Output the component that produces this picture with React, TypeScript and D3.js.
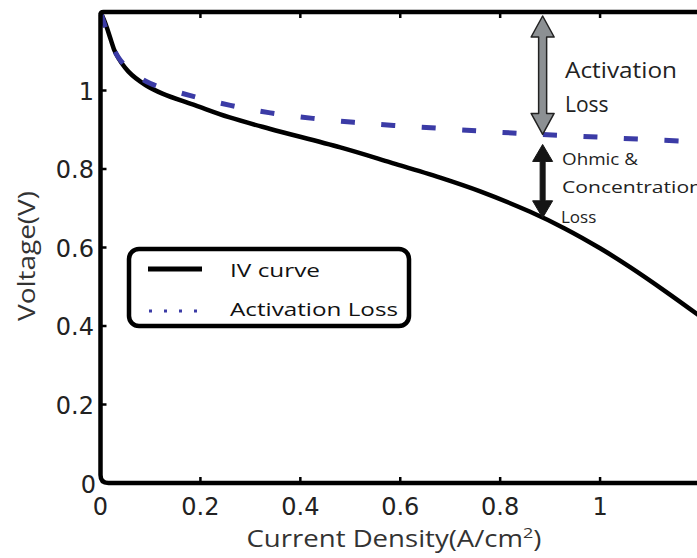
import React, { useLayoutEffect, useRef } from "react";
import * as d3 from "d3";

const W = 697;
const H = 558;

const xTicks = [0, 0.2, 0.4, 0.6, 0.8, 1];
const yTicks = [0.2, 0.4, 0.6, 0.8, 1];

const ivX = [0, 0.01, 0.02, 0.03, 0.056, 0.09, 0.124, 0.19, 0.257, 0.34, 0.48, 0.58, 0.68, 0.76, 0.86, 0.93, 1.0, 1.06, 1.13, 1.2];
const ivV = [1.2, 1.17, 1.132, 1.096, 1.048, 1.014, 0.992, 0.962, 0.932, 0.902, 0.855, 0.817, 0.778, 0.743, 0.691, 0.648, 0.598, 0.55, 0.489, 0.425];

const actX = [0, 0.01, 0.02, 0.036, 0.06, 0.1, 0.18, 0.26, 0.34, 0.425, 0.507, 0.587, 0.673, 0.755, 0.835, 0.918, 1.0, 1.08, 1.166, 1.2];
const actV = [1.2, 1.16, 1.125, 1.084, 1.05, 1.018, 0.987, 0.962, 0.943, 0.929, 0.919, 0.911, 0.904, 0.897, 0.891, 0.886, 0.881, 0.876, 0.871, 0.869];

const seriesNames = ["IV curve", "Activation Loss"];

const FONT = "'Open Sans', 'Noto Sans', sans-serif";
const TICKFONT = "'DejaVu Sans', sans-serif";
const BLUE = "#3b3ba6";
const DASH = 14;
const PERIOD = 40.5;

function doubleArrow(x: number, y1: number, y2: number, headW: number, headL: number, shaftW: number) {
  const p = d3.path();
  p.moveTo(x, y1);
  p.lineTo(x + headW, y1 + headL);
  p.lineTo(x + shaftW, y1 + headL);
  p.lineTo(x + shaftW, y2 - headL);
  p.lineTo(x + headW, y2 - headL);
  p.lineTo(x, y2);
  p.lineTo(x - headW, y2 - headL);
  p.lineTo(x - shaftW, y2 - headL);
  p.lineTo(x - shaftW, y1 + headL);
  p.lineTo(x - headW, y1 + headL);
  p.closePath();
  return p.toString();
}

export default function App() {
  const actRef = useRef<SVGPathElement>(null);
  const x = d3.scaleLinear().domain([0, 1.2]).range([100.5, 700]);
  const y = d3.scaleLinear().domain([0, 1.2]).range([483, 12]);

  const line = d3
    .line<[number, number]>()
    .x((d) => x(d[0]))
    .y((d) => y(d[1]))
    .curve(d3.curveCatmullRom.alpha(0.5));

  const ivData: [number, number][] = ivX.map((v, i) => [v, ivV[i]]);
  const actData: [number, number][] = actX.map((v, i) => [v, actV[i]]);

  useLayoutEffect(() => {
    const el = actRef.current;
    if (!el) return;
    const total = el.getTotalLength();
    const target = x(0.1) - DASH / 2;
    let lo = 0, hi = total;
    for (let i = 0; i < 40; i++) {
      const mid = (lo + hi) / 2;
      if (el.getPointAtLength(mid).x < target) lo = mid; else hi = mid;
    }
    const off = PERIOD - (lo % PERIOD);
    el.setAttribute("stroke-dashoffset", String(off));
  }, []);

  const x0 = x(0), x1 = x(1.2), y0 = y(0), y1 = y(1.2);
  const r = 8;
  const axisPath = `M${x1 + 10},${y1} L${x0 + 3},${y1} Q${x0},${y1} ${x0},${y1 + 3} L${x0},${y0 - r} Q${x0},${y0} ${x0 + r},${y0} L${x1 + 10},${y0}`;

  const annX = x(0.885);
  const actAt = d3.scaleLinear().domain(actX).range(actV)(0.885);
  const ivAt = d3.scaleLinear().domain(ivX).range(ivV)(0.885);

  return (
    <svg width={W} height={H} style={{ position: "absolute", left: 0, top: 0, background: "#fff" }} fontFamily={FONT}>
      <rect x={0} y={0} width={W} height={H} fill="#fff" />
      {/* curves */}
      <path d={line(ivData) || ""} fill="none" stroke="#000" strokeWidth={4.5} strokeLinejoin="round" />
      <path ref={actRef} d={line(actData) || ""} fill="none" stroke={BLUE} strokeWidth={5} strokeDasharray={`${DASH},${PERIOD - DASH}`} />

      {/* axes box */}
      <path d={axisPath} fill="none" stroke="#000" strokeWidth={4.5} strokeLinejoin="round" />
      {xTicks.filter((t) => t > 0).map((t) => (
        <g key={"xt" + t}>
          <line x1={x(t)} x2={x(t)} y1={y0} y2={y0 - 6} stroke="#000" strokeWidth={2.5} />
          <line x1={x(t)} x2={x(t)} y1={y1} y2={y1 + 6} stroke="#000" strokeWidth={2.5} />
        </g>
      ))}
      {yTicks.map((t) => (
        <line key={"yt" + t} x1={x0} x2={x0 + 6} y1={y(t)} y2={y(t)} stroke="#000" strokeWidth={2.5} />
      ))}

      {/* tick labels */}
      {xTicks.map((t) => (
        <text key={"xl" + t} x={x(t)} y={515} textAnchor="middle" fontSize={24} fill="#222" fontFamily={TICKFONT}>
          {d3.format("~g")(t)}
        </text>
      ))}
      {yTicks.map((t) => (
        <text key={"yl" + t} x={94} y={y(t) + 9} textAnchor="end" fontSize={24} fill="#222" fontFamily={TICKFONT}>
          {d3.format("~g")(t)}
        </text>
      ))}
      <text x={96} y={493} textAnchor="end" fontSize={24} fill="#222" fontFamily={TICKFONT}>0</text>

      {/* axis labels */}
      <text x={394} y={547} textAnchor="middle" fontSize={23} fill="#333" textLength={295} lengthAdjust="spacingAndGlyphs">
        Current Density(A/cm<tspan dy={-9} fontSize={15}>2</tspan><tspan dy={9}>)</tspan>
      </text>
      <text transform="translate(35,256) rotate(-90)" textAnchor="middle" fontSize={23} fill="#333" textLength={130} lengthAdjust="spacingAndGlyphs">
        Voltage(V)
      </text>

      {/* legend */}
      <rect x={129} y={249} width={280} height={77} rx={10} ry={10} fill="#fff" stroke="#000" strokeWidth={4.5} />
      <line x1={148} x2={202} y1={269} y2={269} stroke="#000" strokeWidth={5} />
      <line x1={149} x2={200} y1={311} y2={311} stroke={BLUE} strokeWidth={3} strokeDasharray="3,12" />
      <text x={230} y={277} fontSize={19} fill="#111" textLength={90} lengthAdjust="spacingAndGlyphs">{seriesNames[0]}</text>
      <text x={230} y={316} fontSize={19} fill="#111" textLength={168} lengthAdjust="spacingAndGlyphs">{seriesNames[1]}</text>

      {/* annotations */}
      <path d={doubleArrow(annX, y(1.2) + 4, y(actAt) + 0, 11.5, 21, 4)} fill="#8c9093" stroke="#222" strokeWidth={1.5} strokeLinejoin="round" />
      <path d={doubleArrow(annX, y(actAt) + 10, y(ivAt) + 0, 10, 17, 2.5)} fill="#151515" stroke="#151515" strokeWidth={1} strokeLinejoin="round" />
      <text x={565} y={78} fontSize={21} fill="#222" textLength={112} lengthAdjust="spacingAndGlyphs">Activation</text>
      <text x={565} y={112} fontSize={21} fill="#222">Loss</text>
      <text x={562} y={165} fontSize={17} fill="#222" textLength={76} lengthAdjust="spacingAndGlyphs">Ohmic &amp;</text>
      <text x={562} y={193} fontSize={17} fill="#222" textLength={140} lengthAdjust="spacingAndGlyphs">Concentration</text>
      <text x={561} y={223} fontSize={17} fill="#222">Loss</text>
    </svg>
  );
}
